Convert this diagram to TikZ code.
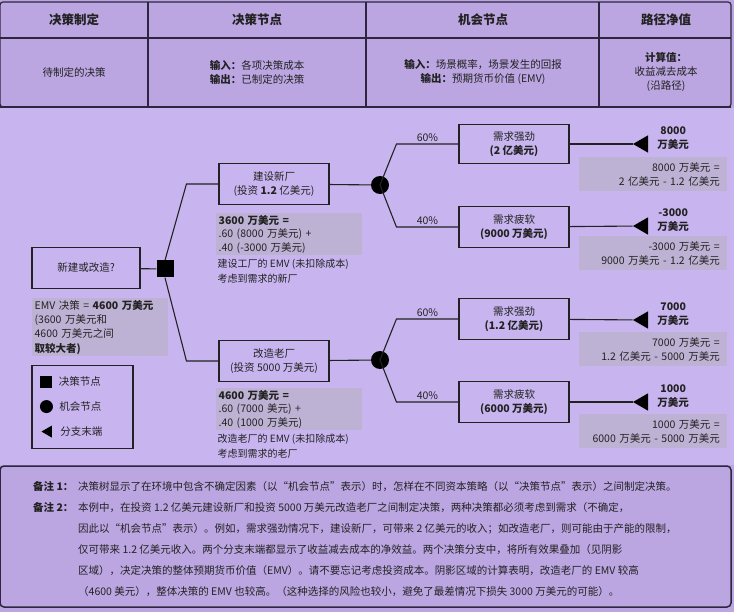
\documentclass[tikz,border=0pt]{standalone}
\usepackage{fontspec}
\setmainfont{Noto Sans CJK SC}
\usetikzlibrary{positioning,shapes.geometric}
\definecolor{bgtab}{HTML}{BBA6E2}
\definecolor{bgmain}{HTML}{C8B5EF}
\definecolor{shade}{HTML}{BEB2D4}
\definecolor{ink}{HTML}{222222}
\definecolor{rule}{HTML}{2E2640}

\begin{document}
\begin{tikzpicture}[x=1pt,y=-1pt,text=ink,
box/.style={draw=ink,line width=1.1pt,align=center,minimum width=110pt,
  minimum height=41pt,inner sep=1pt,font=\fontsize{10.5}{14}\selectfont},
decsq/.style={fill=black,minimum size=17pt,inner sep=0pt},
chance/.style={circle,fill=black,minimum size=18pt,inner sep=0pt},
leafend/.style={regular polygon,regular polygon sides=3,shape border rotate=90,
  fill=black,minimum size=20pt,inner sep=0pt},
link/.style={draw=ink,line width=1.1pt},
prob/.style={above,font=\fontsize{10.5}{11}\selectfont,inner sep=2pt},
payoff/.style={align=center,font=\bfseries\fontsize{10.5}{14.5}\selectfont,inner sep=0pt},
netcalc/.style={fill=shade,align=right,text width=134pt,minimum height=34pt,
  inner xsep=7pt,inner ysep=2pt,font=\fontsize{10.5}{14}\selectfont},
emv/.style={fill=shade,align=left,text width=140pt,inner xsep=3pt,inner ysep=2pt,
  font=\fontsize{10.5}{13.5}\selectfont},
aside/.style={align=left,inner sep=0pt,font=\fontsize{10}{15}\selectfont},
colhead/.style={font=\bfseries\fontsize{12.5}{14}\selectfont},
cell/.style={align=center,font=\fontsize{10.5}{14}\selectfont},
keytxt/.style={font=\fontsize{10.5}{12}\selectfont,inner sep=0pt}]
\useasboundingbox (0,0) rectangle (734,612);
% backgrounds
\fill[bgtab] (0,0) rectangle (734,612);
\fill[bgmain] (0,108) rectangle (734,465);
% top table
\draw[rule,line width=1.2pt,rounded corners=3pt] (0,2) rectangle (731,107);
\draw[rule,line width=1.2pt] (0,38) -- (731,38);
\draw[rule,line width=2pt] (0,107) -- (731,107);
\foreach \x in {148,366,599} \draw[rule,line width=1.2pt] (\x,2) -- (\x,107);
\node[colhead] (h1) at (74,20) {决策制定};
\node[colhead] (h2) at (257,20) {决策节点};
\node[colhead] (h3) at (483,20) {机会节点};
\node[colhead] (h4) at (666,20) {路径净值};
\node[cell] (r1) at (74,72) {待制定的决策};
\node[cell] (r2) at (257,72) {\textbf{输入：}各项决策成本\\\textbf{输出：}已制定的决策};
\node[cell] (r3) at (483,72) {\textbf{输入：}场景概率，场景发生的回报\\\textbf{输出：}预期货币价值 (EMV)};
\node[cell] (r4) at (666,72) {\textbf{计算值：}\\收益减去成本\\(沿路径)};
% tree
\node[box,minimum width=108pt] (start) at (86,268) {新建或改造?};
\node[decsq] (dec) at (165,269) {};
\node[box] (build) at (274,184) {建设新厂\\(投资 \textbf{1.2} 亿美元)};
\node[box] (reno) at (274,361) {改造老厂\\(投资 5000 万美元)};
\node[chance] (ch1) at (380,185) {};
\node[chance] (ch2) at (380,360) {};
\node[box,minimum height=39pt] (hi1) at (514,144) {需求强劲\\\textbf{(2 亿美元)}};
\node[box] (lo1) at (514,227) {需求疲软\\\textbf{(9000 万美元)}};
\node[box] (hi2) at (514,319) {需求强劲\\\textbf{(1.2 亿美元)}};
\node[box] (lo2) at (514,402) {需求疲软\\\textbf{(6000 万美元)}};
\node[leafend] (e1) at (643,144) {};
\node[leafend] (e2) at (643,226) {};
\node[leafend] (e3) at (643,320) {};
\node[leafend] (e4) at (643,402) {};
\node[payoff,right=9pt of e1,yshift=6pt] (v1) {8000\\万美元};
\node[payoff,right=9pt of e2,yshift=6pt] (v2) {-3000\\万美元};
\node[payoff,right=9pt of e3,yshift=6pt] (v3) {7000\\万美元};
\node[payoff,right=9pt of e4,yshift=6pt] (v4) {1000\\万美元};
\node[netcalc,anchor=north east] (n1) at (727,157) {8000 万美元 =\\2 亿美元 - 1.2 亿美元};
\node[netcalc,anchor=north east] (n2) at (727,236) {-3000 万美元 =\\9000 万美元 - 1.2 亿美元};
\node[netcalc,anchor=north east] (n3) at (727,332) {7000 万美元 =\\1.2 亿美元 - 5000 万美元};
\node[netcalc,anchor=north east] (n4) at (727,414) {1000 万美元 =\\6000 万美元 - 5000 万美元};
\node[emv,below=8pt of build.south west,anchor=north west,xshift=-3pt] (emv1)
  {\textbf{3600 万美元 =}\\.60 (8000 万美元) +\\.40 (-3000 万美元)};
\node[aside,below=3pt of emv1.south west,anchor=north west,xshift=2pt] (why1)
  {建设工厂的 EMV (未扣除成本)\\考虑到需求的新厂};
\node[emv,below=6pt of reno.south west,anchor=north west,xshift=-3pt] (emv2)
  {\textbf{4600 万美元 =}\\.60 (7000 美元) +\\.40 (1000 万美元)};
\node[aside,below=3pt of emv2.south west,anchor=north west,xshift=2pt] (why2)
  {改造老厂的 EMV (未扣除成本)\\考虑到需求的老厂};
\node[emv,text width=130pt,font=\fontsize{10.5}{14.3}\selectfont,
  below=9pt of start.south west,anchor=north west] (emvd)
  {EMV 决策 = \textbf{4600 万美元}\\(3600 万美元和\\4600 万美元之间\\\textbf{取较大者)}};
% connectors
\draw[link] (start) -- (dec);
\draw[link] (dec.north) -- ([xshift=-32pt]build.west) -- (build.west);
\draw[link] (dec.south) -- ([xshift=-32pt]reno.west) -- (reno.west);
\draw[link] (build) -- (ch1);
\draw[link] (reno) -- (ch2);
\draw[link] (ch1.center) -- ([xshift=-62pt]hi1.west) -- node[prob]{60\%} (hi1.west);
\draw[link] (ch1.center) -- ([xshift=-62pt]lo1.west) -- node[prob]{40\%} (lo1.west);
\draw[link] (ch2.center) -- ([xshift=-62pt]hi2.west) -- node[prob]{60\%} (hi2.west);
\draw[link] (ch2.center) -- ([xshift=-62pt]lo2.west) -- node[prob]{40\%} (lo2.west);
\draw[link] (hi1) -- (e1);
\draw[link] (lo1) -- (e2);
\draw[link] (hi2) -- (e3);
\draw[link] (lo2) -- (e4);
% legend
\node[draw=ink,line width=1.1pt,minimum width=101pt,minimum height=83pt,
  below=8pt of emvd.south west,anchor=north west] (key) {};
\node[decsq,minimum size=12pt] (ksq) at ([xshift=15pt,yshift=-17pt]key.north west) {};
\node[chance,minimum size=13pt] (kci) at ([xshift=15pt,yshift=-42pt]key.north west) {};
\node[leafend,minimum size=14pt] (ktr) at ([xshift=17pt,yshift=-67pt]key.north west) {};
\node[keytxt,right=6pt of ksq] (kt1) {决策节点};
\node[keytxt,right=6pt of kci] (kt2) {机会节点};
\node[keytxt,right=8pt of ktr] (kt3) {分支末端};
% notes
\draw[rule,line width=1.5pt,rounded corners=4pt] (0,466) rectangle (731,607);
\node[anchor=north west,inner sep=0pt,font=\fontsize{10.5}{21}\selectfont] (notes) at (33,476)
{\begin{tabular}{@{}p{45pt}@{}l@{}}
\textbf{备注 1：}&决策树显示了在环境中包含不确定因素（以“机会节点”表示）时，怎样在不同资本策略（以“决策节点”表示）之间制定决策。\\
\textbf{备注 2：}&本例中，在投资 1.2 亿美元建设新厂和投资 5000 万美元改造老厂之间制定决策，两种决策都必须考虑到需求（不确定，\\
&因此以“机会节点”表示）。例如，需求强劲情况下，建设新厂，可带来 2 亿美元的收入；如改造老厂，则可能由于产能的限制，\\
&仅可带来 1.2 亿美元收入。两个分支末端都显示了收益减去成本的净效益。两个决策分支中，将所有效果叠加（见阴影\\
&区域），决定决策的整体预期货币价值（EMV）。请不要忘记考虑投资成本。阴影区域的计算表明，改造老厂的 EMV 较高\\
&（4600 美元），整体决策的 EMV 也较高。（这种选择的风险也较小，避免了最差情况下损失 3000 万美元的可能）。
\end{tabular}};
\end{tikzpicture}
\end{document}
